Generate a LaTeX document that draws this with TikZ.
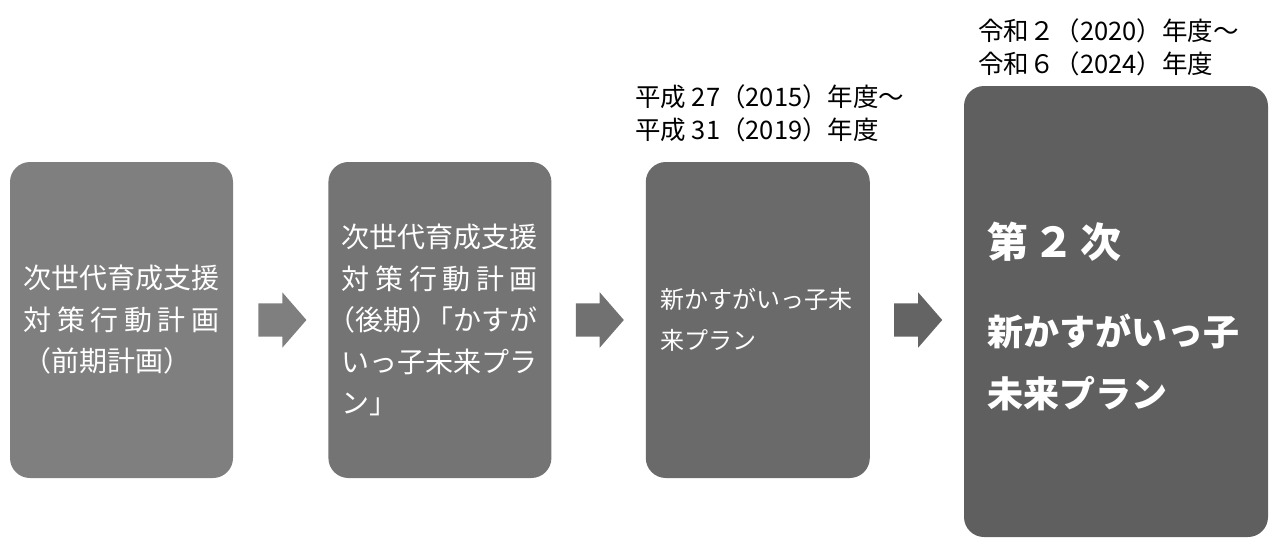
\documentclass[tikz,border=0pt]{standalone}
\usepackage{fontspec}
\setmainfont{Noto Sans CJK JP}
\usetikzlibrary{positioning,shapes.arrows}
\definecolor{planA}{HTML}{7F7F7F}
\definecolor{planB}{HTML}{747474}
\definecolor{planC}{HTML}{6A6A6A}
\definecolor{planD}{HTML}{5F5F5F}
\definecolor{arrowB}{HTML}{717171}
\definecolor{arrowC}{HTML}{646464}
\begin{document}
\begin{tikzpicture}[x=1pt, y=-1pt, node distance=95pt,
    plan node/.style={rectangle, rounded corners=20pt, text=white, align=left, inner xsep=13.5pt, inner ysep=0pt, minimum width=223pt, minimum height=316pt, text width=196pt, font=\fontsize{28}{41.5}\selectfont},
    step arrow/.style={single arrow, minimum height=48pt, single arrow head extend=11pt, single arrow tip angle=98, inner xsep=0pt, inner ysep=16.5pt},
    year node/.style={anchor=west, align=left, inner sep=0pt, font=\fontsize{25.5}{33}\selectfont}]

    \useasboundingbox (0,0) rectangle (1278,544);

    \node[plan node, fill=planA] at (121.5,320) (b1) {次世代育成支援\\対\hfill 策\hfill 行\hfill 動\hfill 計\hfill 画\\（前期計画）};
    \node[plan node, fill=planB, right=95pt of b1] (b2) {次世代育成支援\\対\hfill 策\hfill 行\hfill 動\hfill 計\hfill 画\\\hspace*{-14pt}（後期）\kern-14pt「かすが\\い\hfill っ\hfill 子\hfill 未\hfill 来\hfill プ\hfill ラ\\ン」};
    \node[plan node, fill=planC, right=94pt of b2, inner xsep=15pt, text width=194pt, font=\fontsize{24}{41}\selectfont] (b3) {新かすがいっ子未\\来プラン};
    \node[plan node, fill=planD, minimum width=304pt, minimum height=451pt, inner xsep=23pt, text width=258pt, font=\bfseries\fontsize{36}{62}\selectfont] at (1116,311.5) (b4) {\rule{0pt}{46pt}{\fontsize{41}{62}\selectfont 第\kern6pt ２\kern6pt 次}\\[26pt]新かすがいっ子\\未来プラン};

    \node[step arrow, fill=planA, right=25pt of b1] (a1) {};
    \node[step arrow, fill=arrowB, right=24pt of b2] (a2) {};
    \node[step arrow, fill=arrowC, right=24pt of b3] (a3) {};

    \node[year node] at (635,113.5) (y3) {平成 27（2015）年度～\\平成 31（2019）年度};
    \node[year node] at (978,47.5) (y4) {令和２（2020）年度～\\令和６（2024）年度};
\end{tikzpicture}
\end{document}
